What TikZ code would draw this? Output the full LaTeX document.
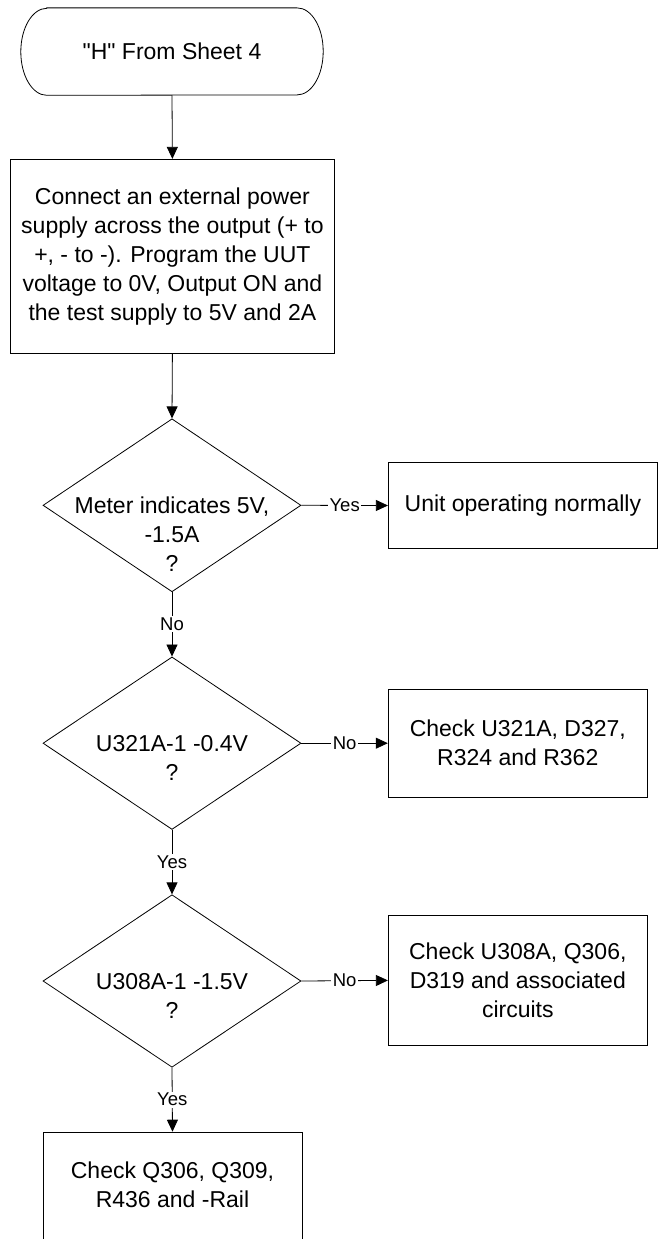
\documentclass[tikz,border=0pt]{standalone}
\usepackage{fontspec}
\newfontfamily\lsans{Liberation Sans}
\usetikzlibrary{shapes.geometric,arrows.meta,calc}
\begin{document}
\begin{tikzpicture}[x=1pt,y=-1pt,
  mainfont/.style={font=\lsans\fontsize{23}{29}\selectfont},
  boxnode/.style={draw, rectangle, line width=0.8pt, inner sep=0pt, align=center, mainfont},
  decnode/.style={draw, diamond, line width=0.8pt, inner sep=0pt, minimum width=258pt, minimum height=172.5pt},
  dectext/.style={align=center, inner sep=0pt, mainfont},
  lbl/.style={fill=white, inner sep=1.5pt, font=\lsans\fontsize{18.5}{21}\selectfont},
  arr/.style={line width=0.8pt, -{Triangle[length=12pt,width=11pt]}}]
\useasboundingbox (0,0) rectangle (658,1239);
\clip (0,0) rectangle (658,1239);
% terminator
\node[inner sep=0pt, minimum width=302pt, minimum height=87pt, mainfont] (start) at (172,51.6) {"H" From Sheet 4};
\draw[line width=0.8pt] ($(start.north west)+(26,0)$) -- ($(start.north east)+(-26,0)$)
  arc[start angle=90, end angle=-90, x radius=26pt, y radius=43.5pt]
  -- ($(start.south west)+(26,0)$)
  arc[start angle=-90, end angle=-270, x radius=26pt, y radius=43.5pt] -- cycle;
% box 1
\node[boxnode, minimum width=323.8pt, minimum height=194pt] (b1) at (172.4,256.3)
  {Connect an external power\\supply across the output (+ to\\+, - to -). Program the UUT\\voltage to 0V, Output ON and\\the test supply to 5V and 2A};
% decision 1
\node[decnode, minimum height=173pt] (d1) at (172,505.3) {};
\node[dectext] (d1t) at (172,534.3) {Meter indicates 5V,\\-1.5A\\?};
\node[boxnode, minimum width=269.2pt, minimum height=85.6pt] (unit) at (522.9,505.5) {Unit operating normally};
% decision 2
\node[decnode] (d2) at (172,743.2) {};
\node[dectext] (d2t) at (172,757.7) {U321A-1 -0.4V\\?};
\node[boxnode, minimum width=259.2pt, minimum height=108.3pt] (ck1) at (517.8,743.2) {Check U321A, D327,\\R324 and R362};
% decision 3
\node[decnode] (d3) at (172,981) {};
\node[dectext] (d3t) at (172,995.5) {U308A-1 -1.5V\\?};
\node[boxnode, minimum width=259pt, minimum height=129.3pt] (ck2) at (517.8,980.4) {Check U308A, Q306,\\D319 and associated\\circuits};
% final box
\node[boxnode, minimum width=259.2pt, minimum height=116pt, anchor=north] (ck3) at (172.5,1131.7) {};
\node[dectext] (ck3t) at (172.5,1185) {Check Q306, Q309,\\R436 and -Rail};
% connectors
\draw[arr] (start.south) -- (b1.north);
\draw[arr] (b1.south) -- (d1.north);
\draw[arr] (d1.east) -- node[lbl] {Yes} (unit.west);
\draw[arr] (d1.south) -- node[lbl] {No} (d2.north);
\draw[arr] (d2.east) -- node[lbl] {No} (ck1.west);
\draw[arr] (d2.south) -- node[lbl] {Yes} (d3.north);
\draw[arr] (d3.east) -- node[lbl] {No} (ck2.west);
\draw[arr] (d3.south) -- node[lbl] {Yes} (ck3.north);
\end{tikzpicture}
\end{document}
